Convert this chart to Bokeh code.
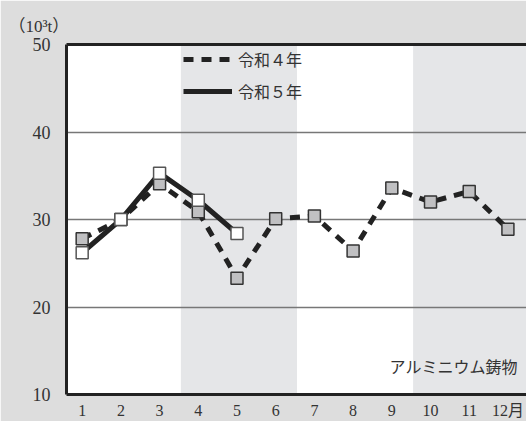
from bokeh.plotting import figure
from bokeh.models import (LinearAxis, Range1d, FixedTicker, Legend, LegendItem,
                          Label, BoxAnnotation)
from bokeh.embed import file_html
from bokeh.resources import INLINE

# ---- data ----
months = [1, 2, 3, 4, 5, 6, 7, 8, 9, 10, 11, 12]
r4_values = [27.8, 30.0, 34.1, 30.9, 23.3, 30.1, 30.4, 26.4, 33.6, 32.0, 33.2, 28.9]
r5_months = [1, 2, 3, 4, 5]
r5_values = [26.2, 30.0, 35.3, 32.2, 28.4]
y_ticks = [10, 20, 30, 40, 50]
x_tick_labels = {m: str(m) for m in months}
x_tick_labels[12] = "12月"
series_names = ["令和４年", "令和５年"]
shaded_bands = [(3.55, 6.55), (9.55, 12.6)]
unit_label = "（10³t）"
note_label = "アルミニウム鋳物"

SERIF = "'Liberation Serif', 'DejaVu Serif', 'Noto Sans CJK JP', serif"
TXT = "#333333"
INK = "#222222"

p = figure(width=526, height=421, output_backend="svg", toolbar_location=None,
           x_range=Range1d(0.595, 12.48), y_range=Range1d(10, 50),
           x_axis_location=None, y_axis_location=None)
p.min_border_left = 66
p.min_border_top = 44
p.min_border_right = 0
p.min_border_bottom = 8
p.border_fill_color = "#dddddd"
p.background_fill_color = "white"
p.outline_line_color = None

# unit label as title, above the y axis
p.title.text = unit_label
p.title.align = "left"
p.title.offset = -58
p.title.text_font = SERIF
p.title.text_font_size = "17px"
p.title.text_font_style = "normal"
p.title.text_color = TXT
p.title.standoff = 17

# shaded bands
for a, b in shaded_bands:
    p.add_layout(BoxAnnotation(left=a, right=b, fill_color="#e5e6e8", fill_alpha=1.0,
                               line_color=None, level="image"))

# axes
left = LinearAxis(ticker=FixedTicker(ticks=y_ticks))
left.axis_line_width = 3
left.axis_line_color = INK
left.major_tick_line_color = None
left.minor_tick_line_color = None
left.major_label_text_font = SERIF
left.major_label_text_font_size = "18px"
left.major_label_text_color = TXT
left.major_label_standoff = 10
p.add_layout(left, "left")

bottom = LinearAxis(ticker=FixedTicker(ticks=months),
                    major_label_overrides=x_tick_labels)
bottom.axis_line_width = 3
bottom.axis_line_color = INK
bottom.major_tick_line_color = None
bottom.minor_tick_line_color = None
bottom.major_label_text_font = SERIF
bottom.major_label_text_font_size = "16px"
bottom.major_label_text_color = TXT
bottom.major_label_standoff = 1
p.add_layout(bottom, "below")

top = LinearAxis(ticker=FixedTicker(ticks=[]))
top.axis_line_width = 3
top.axis_line_color = INK
top.major_label_text_font_size = "0px"
top.major_tick_line_color = None
top.minor_tick_line_color = None
p.add_layout(top, "above")

# grid
p.xgrid.grid_line_color = None
p.ygrid.ticker = FixedTicker(ticks=[20, 30, 40])
p.ygrid.grid_line_color = "#777777"
p.ygrid.grid_line_width = 1.5

# lines
l4 = p.line(months, r4_values, line_color=INK, line_width=5, line_dash="10 8")
l5 = p.line(r5_months, r5_values, line_color=INK, line_width=5)
p.scatter(months, r4_values, marker="square", size=12, fill_color="#c0c0c2",
          line_color="#333333", line_width=1.5)
p.scatter(r5_months, r5_values, marker="square", size=12, fill_color="white",
          line_color="#555555", line_width=1.5)

legend = Legend(items=[LegendItem(label=series_names[0], renderers=[l4]),
                       LegendItem(label=series_names[1], renderers=[l5])],
                location=(117, 291), orientation="vertical")
legend.background_fill_alpha = 0
legend.border_line_color = None
legend.glyph_width = 49
legend.glyph_height = 20
legend.label_height = 20
legend.spacing = 8
legend.padding = 0
legend.margin = 0
legend.label_standoff = 6
legend.label_text_font = SERIF
legend.label_text_font_size = "16px"
legend.label_text_color = TXT
p.add_layout(legend, "center")

p.add_layout(Label(x=12.25, y=13.05, text=note_label, text_align="right",
                   text_baseline="middle", text_font=SERIF, text_font_size="16px",
                   text_color=TXT))

open("out.html", "w").write(file_html(p, INLINE))
